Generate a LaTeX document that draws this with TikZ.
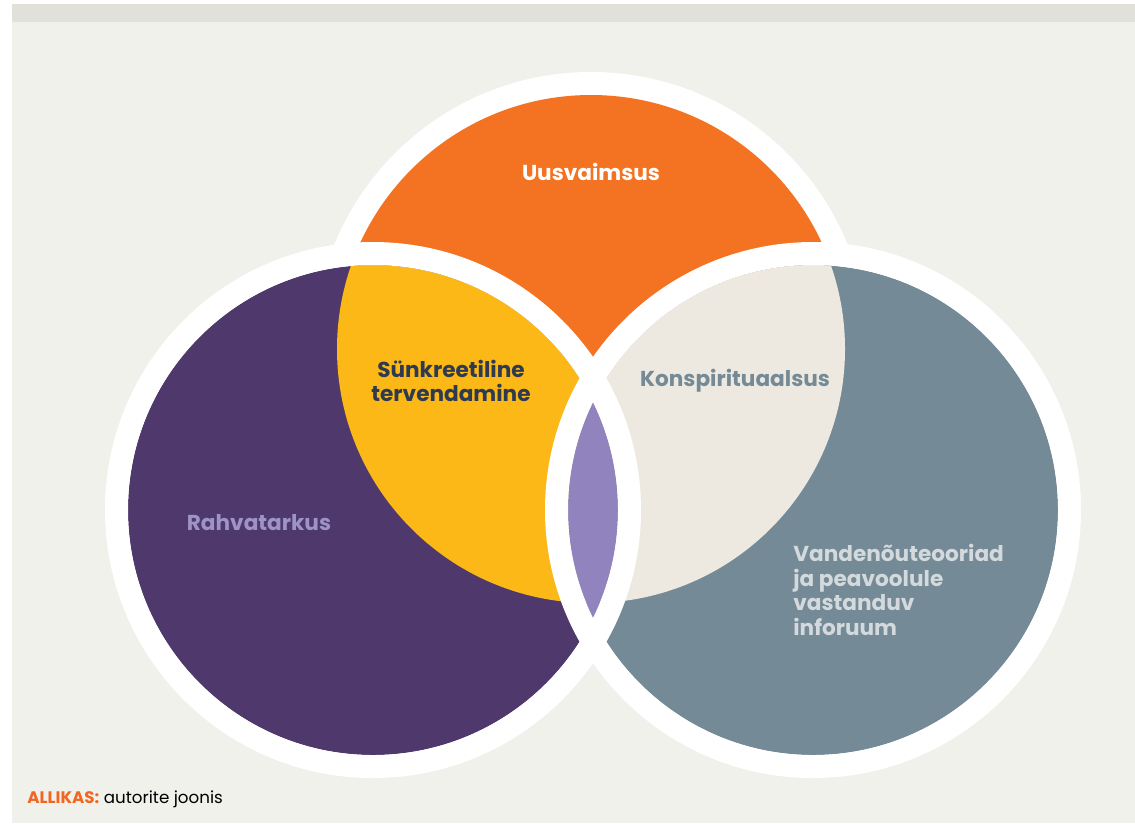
\documentclass[tikz,border=0pt]{standalone}
\usepackage{fontspec}
\setmainfont{Poppins}
\usepackage{tikz}
\definecolor{paper}{HTML}{F1F1EC}
\definecolor{band}{HTML}{E2E1D9}
\definecolor{uus}{HTML}{F47322}
\definecolor{rahva}{HTML}{4F386B}
\definecolor{vande}{HTML}{748A96}
\definecolor{synk}{HTML}{FBB817}
\definecolor{konsp}{HTML}{EEE9E0}
\definecolor{lens}{HTML}{9183BD}
\definecolor{rahvatxt}{HTML}{9E93C6}
\definecolor{synktxt}{HTML}{2E3A4E}
\definecolor{vandetxt}{HTML}{D3D9DC}
\definecolor{allikas}{HTML}{F26522}

\begin{document}
\begin{tikzpicture}[x=0.02cm,y=0.02cm,
    lbl/.style={font=\fontsize{12.3}{14}\selectfont\bfseries, inner sep=0pt},
    ring/.style={white, line width=0.46cm}]
          \useasboundingbox (0,0) rectangle (1135,-823);
          \fill[white] (0,0) rectangle (1135,-823);
          \fill[paper] (12,-4) rectangle (1135,-823);
          \fill[band] (12,-4) rectangle (1135,-22);
          \coordinate (T) at (591,-349);
          \coordinate (L) at (373,-510);
          \coordinate (R) at (813,-510);
          \fill[white] (T) circle (277);
          \fill[uus] (T) circle (254);
          \fill[rahva] (L) circle (245);
          \fill[vande] (R) circle (245);
          \begin{scope}
             \clip (T) circle (254);
             \fill[synk] (L) circle (245);
             \fill[konsp] (R) circle (245);
          \end{scope}
          \begin{scope}
             \clip (L) circle (245);
             \fill[lens] (R) circle (245);
          \end{scope}
          \draw[ring] (L) circle (256.5);
          \draw[ring] (R) circle (256.5);
             \node[lbl, white] (uusv) at (591,-172) {Uusvaimsus};
             \node[lbl, synktxt, align=center] (synkr) at (451,-381) {Sünkreetiline\\tervendamine};
             \node[lbl, vande] (konspi) at (735,-381) {Konspirituaalsus};
             \node[lbl, rahvatxt] (rahvat) at (259,-523) {Rahvatarkus};
             \node[lbl, vandetxt, align=left, anchor=west] (vanden) at (793,-590) {Vandenõuteooriad\\ja peavoolule\\vastanduv\\inforuum};
             \node[inner sep=0pt, anchor=base west, font=\fontsize{9.5}{10}\selectfont] (allik) at (27,-803) {\textcolor{allikas}{\bfseries ALLIKAS:} autorite joonis};
      \end{tikzpicture}
\end{document}
